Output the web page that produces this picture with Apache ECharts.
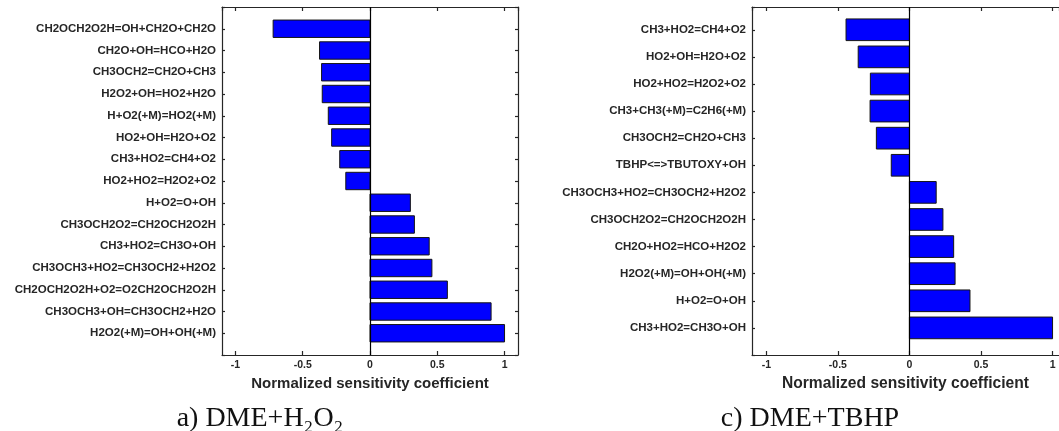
<!DOCTYPE html>
<html><head><meta charset="utf-8">
<script src="https://cdn.jsdelivr.net/npm/echarts@6/dist/echarts.min.js"></script>
<style>html,body{margin:0;padding:0;background:#fff}#c{width:1059px;height:431px}</style>
</head><body><div id="c"></div>
<script>
// Panel a) DME+H2O2 — reactions listed top to bottom
const reactionsA = [
  'CH2OCH2O2H=OH+CH2O+CH2O',
  'CH2O+OH=HCO+H2O',
  'CH3OCH2=CH2O+CH3',
  'H2O2+OH=HO2+H2O',
  'H+O2(+M)=HO2(+M)',
  'HO2+OH=H2O+O2',
  'CH3+HO2=CH4+O2',
  'HO2+HO2=H2O2+O2',
  'H+O2=O+OH',
  'CH3OCH2O2=CH2OCH2O2H',
  'CH3+HO2=CH3O+OH',
  'CH3OCH3+HO2=CH3OCH2+H2O2',
  'CH2OCH2O2H+O2=O2CH2OCH2O2H',
  'CH3OCH3+OH=CH3OCH2+H2O',
  'H2O2(+M)=OH+OH(+M)'
];
const valuesA = [-0.72, -0.375, -0.36, -0.355, -0.31, -0.285, -0.225, -0.18, 0.30, 0.33, 0.44, 0.46, 0.575, 0.90, 1.00];

// Panel c) DME+TBHP — reactions listed top to bottom
const reactionsC = [
  'CH3+HO2=CH4+O2',
  'HO2+OH=H2O+O2',
  'HO2+HO2=H2O2+O2',
  'CH3+CH3(+M)=C2H6(+M)',
  'CH3OCH2=CH2O+CH3',
  'TBHP<=>TBUTOXY+OH',
  'CH3OCH3+HO2=CH3OCH2+H2O2',
  'CH3OCH2O2=CH2OCH2O2H',
  'CH2O+HO2=HCO+H2O2',
  'H2O2(+M)=OH+OH(+M)',
  'H+O2=O+OH',
  'CH3+HO2=CH3O+OH'
];
const valuesC = [-0.443, -0.358, -0.273, -0.275, -0.231, -0.127, 0.187, 0.234, 0.309, 0.319, 0.423, 1.00];

// visible x ranges (panel c is cut off by the picture's right edge)
const xRangeA = [-1.1, 1.1];
const xRangeC = [-1.1, 1.045];
const axisTitle = 'Normalized sensitivity coefficient';
const captionA = 'a) DME+H\u2082O\u2082';
const captionC = 'c) DME+TBHP';

const AX = '#262626';
const labelFont = {fontFamily: 'Liberation Sans', fontWeight: 'bold', color: AX};

function toData(names, vals) {
  const n = names.length;
  return vals.map((v, i) => [v, n - i]);
}
function labelFor(names) {
  const n = names.length;
  return function (v) {
    if (Math.abs(v - Math.round(v)) > 1e-6) return '';
    const idx = n - Math.round(v);
    return (idx >= 0 && idx < n) ? names[idx] : '';
  };
}
function renderBar(params, api) {
  const v = api.value(0), y = api.value(1), h = 0.8;
  const p0 = api.coord([0, y + h / 2]);
  const p1 = api.coord([v, y - h / 2]);
  return {
    type: 'rect',
    shape: {
      x: Math.min(p0[0], p1[0]), y: Math.min(p0[1], p1[1]),
      width: Math.abs(p1[0] - p0[0]), height: Math.abs(p1[1] - p0[1])
    },
    style: {fill: '#0000ff', stroke: '#151515', lineWidth: 1}
  };
}
function xAxes(gi, range) {
  return [{
    gridIndex: gi, type: 'value', position: 'bottom', min: range[0], max: range[1],
    axisLine: {show: true, onZero: false, lineStyle: {color: AX, width: 1.2}},
    axisTick: {show: true, inside: true, length: 4, lineStyle: {color: AX, width: 1.2}},
    axisLabel: Object.assign({fontSize: 10.5, margin: 5, showMinLabel: false, showMaxLabel: false,
      formatter: v => (Math.abs(v * 2 - Math.round(v * 2)) < 1e-6 && Math.abs(v) <= 1.0001) ? String(v) : ''}, labelFont),
    splitLine: {show: false},
    name: axisTitle, nameLocation: 'middle', nameGap: 15,
    nameTextStyle: Object.assign({fontSize: gi === 0 ? 15 : 15.6}, labelFont)
  }, {
    gridIndex: gi, type: 'value', position: 'top', min: range[0], max: range[1],
    axisLine: {show: true, onZero: false, lineStyle: {color: AX, width: 1.2}},
    axisTick: {show: true, inside: true, length: 4, lineStyle: {color: AX, width: 1.2}},
    axisLabel: {show: false}, splitLine: {show: false}
  }];
}
function yAxes(gi, names, maxY, showRight) {
  const base = {
    gridIndex: gi, type: 'value', min: 0, max: maxY, interval: 1,
    axisLine: {show: true, onZero: false, lineStyle: {color: AX, width: 1.2}},
    axisTick: {show: true, inside: true, length: 3, lineStyle: {color: AX, width: 1.2}},
    splitLine: {show: false}
  };
  return [
    Object.assign({}, base, {position: 'left',
      axisLabel: Object.assign({fontSize: 11.5, margin: 6, formatter: labelFor(names)}, labelFont)}),
    Object.assign({}, base, {position: 'right', show: showRight, axisLabel: {show: false}})
  ];
}
const zeroLine = {
  silent: true, symbol: ['none', 'none'], label: {show: false},
  lineStyle: {color: '#000', width: 1.2, type: 'solid'},
  data: [{xAxis: 0}]
};

const chart = echarts.init(document.getElementById('c'), null, {renderer: 'canvas'});
chart.setOption({
  animation: false,
  backgroundColor: '#fff',
  title: [
    {text: captionA, left: 260, top: 405, textAlign: 'center', padding: 0,
      textStyle: {fontFamily: 'Liberation Serif', fontWeight: 'normal', fontSize: 28, color: '#111'}},
    {text: captionC, left: 810, top: 405, textAlign: 'center', padding: 0,
      textStyle: {fontFamily: 'Liberation Serif', fontWeight: 'normal', fontSize: 28, color: '#111'}}
  ],
  grid: [
    {left: 222, top: 7, width: 296, height: 348, containLabel: false},
    {left: 752, top: 7, width: 307, height: 348, containLabel: false}
  ],
  xAxis: [].concat(xAxes(0, xRangeA), xAxes(1, xRangeC)),
  yAxis: [].concat(yAxes(0, reactionsA, 16, true), yAxes(1, reactionsC, 12.84, false)),
  series: [
    {type: 'custom', xAxisIndex: 0, yAxisIndex: 0, renderItem: renderBar,
      encode: {x: 0, y: 1}, data: toData(reactionsA, valuesA), markLine: zeroLine, clip: false},
    {type: 'custom', xAxisIndex: 2, yAxisIndex: 2, renderItem: renderBar,
      encode: {x: 0, y: 1}, data: toData(reactionsC, valuesC), markLine: zeroLine, clip: false}
  ]
});
</script>
</body></html>
